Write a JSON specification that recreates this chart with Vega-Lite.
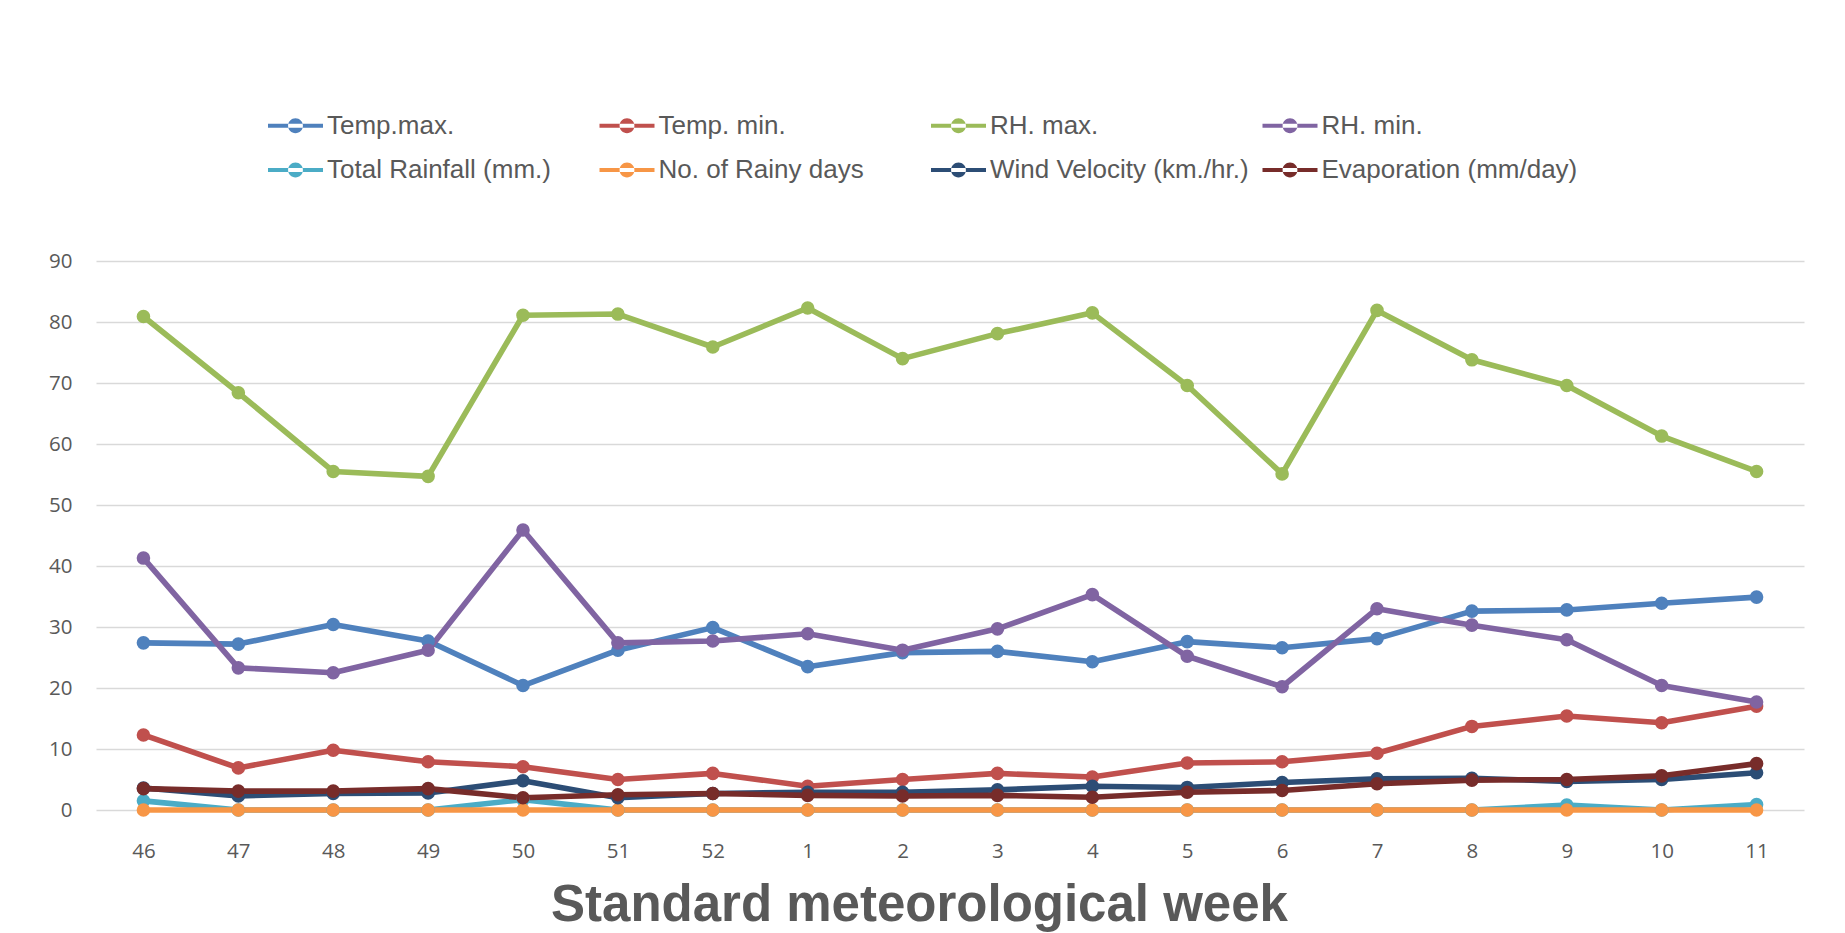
{
  "$schema": "https://vega.github.io/schema/vega-lite/v6.json",
  "autosize": "none",
  "width": 1708,
  "height": 549,
  "padding": {"left": 96, "top": 261, "right": 41, "bottom": 123},
  "background": "white",
  "config": {
    "view": {"stroke": null},
    "font": "Liberation Sans"
  },
  "datasets": {
    "wide": [
      {"week": "46", "tmax": 27.4, "tmin": 12.3, "rhmax": 80.9, "rhmin": 41.3, "rain": 1.5, "rdays": 0, "wind": 3.6, "evap": 3.5},
      {"week": "47", "tmax": 27.2, "tmin": 6.9, "rhmax": 68.4, "rhmin": 23.3, "rain": 0, "rdays": 0, "wind": 2.3, "evap": 3.1},
      {"week": "48", "tmax": 30.4, "tmin": 9.8, "rhmax": 55.5, "rhmin": 22.5, "rain": 0, "rdays": 0, "wind": 2.7, "evap": 3.1},
      {"week": "49", "tmax": 27.7, "tmin": 7.9, "rhmax": 54.7, "rhmin": 26.2, "rain": 0, "rdays": 0, "wind": 2.8, "evap": 3.5},
      {"week": "50", "tmax": 20.4, "tmin": 7.1, "rhmax": 81.1, "rhmin": 45.9, "rain": 1.7, "rdays": 0, "wind": 4.8, "evap": 2.0},
      {"week": "51", "tmax": 26.2, "tmin": 5.0, "rhmax": 81.3, "rhmin": 27.4, "rain": 0, "rdays": 0, "wind": 2.0, "evap": 2.5},
      {"week": "52", "tmax": 29.9, "tmin": 6.0, "rhmax": 75.9, "rhmin": 27.7, "rain": 0, "rdays": 0, "wind": 2.7, "evap": 2.7},
      {"week": "1", "tmax": 23.5, "tmin": 3.9, "rhmax": 82.3, "rhmin": 28.9, "rain": 0, "rdays": 0, "wind": 2.9, "evap": 2.4},
      {"week": "2", "tmax": 25.8, "tmin": 5.0, "rhmax": 74.0, "rhmin": 26.2, "rain": 0, "rdays": 0, "wind": 2.9, "evap": 2.3},
      {"week": "3", "tmax": 26.0, "tmin": 6.0, "rhmax": 78.1, "rhmin": 29.7, "rain": 0, "rdays": 0, "wind": 3.3, "evap": 2.4},
      {"week": "4", "tmax": 24.3, "tmin": 5.4, "rhmax": 81.5, "rhmin": 35.3, "rain": 0, "rdays": 0, "wind": 3.9, "evap": 2.1},
      {"week": "5", "tmax": 27.6, "tmin": 7.7, "rhmax": 69.6, "rhmin": 25.2, "rain": 0, "rdays": 0, "wind": 3.7, "evap": 2.9},
      {"week": "6", "tmax": 26.6, "tmin": 7.9, "rhmax": 55.1, "rhmin": 20.2, "rain": 0, "rdays": 0, "wind": 4.5, "evap": 3.2},
      {"week": "7", "tmax": 28.1, "tmin": 9.3, "rhmax": 81.9, "rhmin": 33.0, "rain": 0, "rdays": 0, "wind": 5.1, "evap": 4.3},
      {"week": "8", "tmax": 32.6, "tmin": 13.7, "rhmax": 73.8, "rhmin": 30.3, "rain": 0, "rdays": 0, "wind": 5.2, "evap": 4.9},
      {"week": "9", "tmax": 32.8, "tmin": 15.4, "rhmax": 69.6, "rhmin": 27.9, "rain": 0.8, "rdays": 0, "wind": 4.7, "evap": 5.0},
      {"week": "10", "tmax": 33.9, "tmin": 14.3, "rhmax": 61.3, "rhmin": 20.4, "rain": 0, "rdays": 0, "wind": 5.0, "evap": 5.6},
      {"week": "11", "tmax": 34.9, "tmin": 17.0, "rhmax": 55.5, "rhmin": 17.7, "rain": 0.9, "rdays": 0, "wind": 6.1, "evap": 7.6}
    ]
  },
  "data": {"name": "wide"},
  "transform": [
    {"fold": ["tmax", "tmin", "rhmax", "rhmin", "rain", "rdays", "wind", "evap"], "as": ["key", "value"]}
  ],
  "encoding": {
    "x": {
      "field": "week",
      "type": "ordinal",
      "sort": ["46","47","48","49","50","51","52","1","2","3","4","5","6","7","8","9","10","11"],
      "scale": {"type": "point", "padding": 0.5},
      "axis": {
        "title": "Standard meteorological week",
        "titleFont": "Liberation Sans",
        "titleFontSize": 51,
        "titleFontWeight": "bold",
        "titleColor": "#595959",
        "titleAnchor": "start",
        "titleAlign": "center",
        "titleBaseline": "alphabetic",
        "titleX": 823,
        "titleY": 110,
        "labelFont": "Open Sans",
        "labelFontSize": 20.5,
        "labelColor": "#595959",
        "labelAngle": 0,
        "labelBaseline": "alphabetic",
        "labelPadding": 47,
        "ticks": false,
        "tickSize": 0,
        "domain": false,
        "grid": false
      }
    },
    "y": {
      "field": "value",
      "type": "quantitative",
      "scale": {"domain": [0, 90], "nice": false, "zero": true},
      "axis": {
        "title": null,
        "values": [0, 10, 20, 30, 40, 50, 60, 70, 80, 90],
        "labelFont": "Open Sans",
        "labelFontSize": 20.5,
        "labelColor": "#595959",
        "labelPadding": 24,
        "ticks": false,
        "tickSize": 0,
        "domain": false,
        "grid": true,
        "gridColor": "#d9d9d9",
        "gridWidth": 1.6
      }
    },
    "color": {
      "field": "key",
      "type": "nominal",
      "scale": {
        "domain": ["tmax", "tmin", "rhmax", "rhmin", "rain", "rdays", "wind", "evap"],
        "range": ["#4F81BD", "#C0504D", "#9BBB59", "#8064A2", "#4BACC6", "#F79646", "#2C4D75", "#772C2A"]
      },
      "legend": {
        "title": null,
        "orient": "none",
        "direction": "horizontal",
        "legendX": 172,
        "legendY": -163,
        "columns": 4,
        "gridAlign": "all",
        "columnPadding": 13.5,
        "rowPadding": 3.5,
        "padding": 0,
        "labelExpr": "{'tmax': '\u00a0Temp.max.', 'tmin': 'Temp. min.', 'rhmax': 'RH. max.', 'rhmin': 'RH. min.', 'rain': 'Total Rainfall (mm.)', 'rdays': 'No. of Rainy days', 'wind': 'Wind Velocity (km./hr.)', 'evap': 'Evaporation (mm/day)'}[datum.value]",
        "labelFont": "Liberation Sans",
        "labelFontSize": 26,
        "labelColor": "#595959",
        "labelOffset": 4,
        "labelLimit": 400,
        "symbolType": "M-1,-0.07L1,-0.07L1,0.07L-1,0.07Z M-0.27,0A0.27,0.27 0 1,0 0.27,0A0.27,0.27 0 1,0 -0.27,0Z",
        "symbolSize": 3025,
        "symbolStrokeWidth": 0,
        "symbolOpacity": 1
      }
    }
  },
  "layer": [
    {
      "mark": {"type": "line", "strokeWidth": 5.6, "strokeJoin": "round", "strokeCap": "round"}
    },
    {
      "mark": {"type": "point", "filled": true, "size": 185, "opacity": 1}
    }
  ]
}
